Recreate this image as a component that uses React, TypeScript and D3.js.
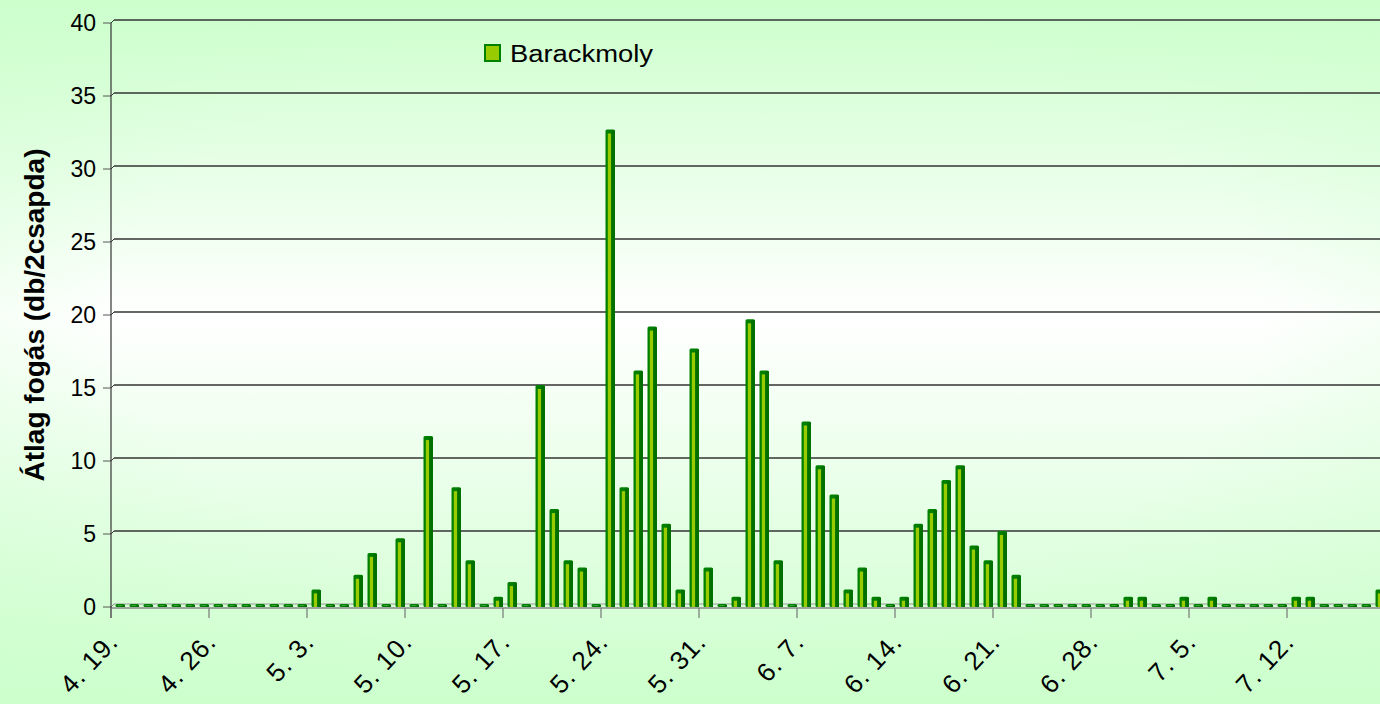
import React, { useEffect } from "react";
import * as d3 from "d3";

// daily mean catch, one array per month (first day of each array given by startDay)
const aprilDays = [19, 30];
const april = [0, 0, 0, 0, 0, 0, 0, 0, 0, 0, 0, 0];
const may = [
  0, 0, 1, 0, 0, 2, 3.5, 0, 4.5, 0, 11.5, 0, 8, 3, 0, 0.5, 1.5, 0, 15, 6.5,
  3, 2.5, 0, 32.5, 8, 16, 19, 5.5, 1, 17.5, 2.5,
];
const june = [
  0, 0.5, 19.5, 16, 3, 0, 12.5, 9.5, 7.5, 1, 2.5, 0.5, 0, 0.5, 5.5, 6.5, 8.5,
  9.5, 4, 3, 5, 2, 0, 0, 0, 0, 0, 0, 0, 0.5,
];
const july = [0.5, 0, 0, 0.5, 0, 0.5, 0, 0, 0, 0, 0, 0.5, 0.5, 0, 0, 0, 0, 1];

const tickLabels = [
  "4. 19.", "4. 26.", "5. 3.", "5. 10.", "5. 17.", "5. 24.", "5. 31.",
  "6. 7.", "6. 14.", "6. 21.", "6. 28.", "7. 5.", "7. 12.",
];
const yTicks = [0, 5, 10, 15, 20, 25, 30, 35, 40];
const seriesName = "Barackmoly";
const yTitle = "Átlag fogás (db/2csapda)";

const W = 1380;
const H = 704;
const DEPTH = 3;

const start = new Date(2010, 3, aprilDays[0]);
const values = [...april, ...may, ...june, ...july];
const data = values.map((v, i) => ({ date: d3.timeDay.offset(start, i), value: v }));
const tickDates = tickLabels.map((_, i) => d3.timeDay.offset(start, i * 7));

export default function App() {
  useEffect(() => {
    document.body.style.margin = "0";
  }, []);

  const x = d3
    .scaleTime()
    .domain([start, d3.timeDay.offset(start, 91)])
    .range([111, 111 + 14 * 91]);
  const y = d3.scaleLinear().domain([0, 40]).range([607, 23]);
  const y0 = y(0);
  const barW = 9.5;

  return (
    <svg
      width={W}
      height={H}
      style={{ position: "absolute", left: 0, top: 0, display: "block" }}
      fontFamily="'Liberation Sans', Arial, sans-serif"
    >
      <defs>
        <linearGradient id="bg" x1="0" y1="0" x2="0" y2="1">
          <stop offset="0" stopColor="#ccffcc" />
          <stop offset="0.45" stopColor="#ffffff" />
          <stop offset="1" stopColor="#ccffcc" />
        </linearGradient>
        <radialGradient id="side" cx="0.5" cy="0.45" r="0.75">
          <stop offset="0.55" stopColor="#ccffcc" stopOpacity="0" />
          <stop offset="1" stopColor="#ccffcc" stopOpacity="0.6" />
        </radialGradient>
      </defs>
      <rect width={W} height={H} fill="url(#bg)" />
      <rect width={W} height={H} fill="url(#side)" />

      {/* gridlines on back wall */}
      {yTicks.map((t) => (
        <g key={t}>
          <line x1={103} x2={111} y1={y(t)} y2={y(t)} stroke="#555" strokeWidth={1} />
          <line
            x1={111}
            y1={y(t)}
            x2={111 + DEPTH}
            y2={y(t) - DEPTH}
            stroke={t === 0 ? "#888" : "#333"}
            strokeWidth={1}
          />
          <line
            x1={111 + DEPTH}
            x2={W}
            y1={y(t) - DEPTH}
            y2={y(t) - DEPTH}
            stroke={t === 0 ? "#999" : "#333"}
            strokeWidth={t === 0 ? 1 : 1.3}
          />
          <text
            x={96}
            y={y(t)}
            textAnchor="end"
            dominantBaseline="central"
            fontSize={23}
            fill="#000"
          >
            {t}
          </text>
        </g>
      ))}

      {/* floor */}
      <line x1={111} x2={W} y1={y0 + 1} y2={y0 + 1} stroke="#888" strokeWidth={1.5} />

      {/* bars */}
      {data.map((d, i) => {
        const bx = x(d.date) + 4.5;
        const top = y(d.value) - DEPTH;
        return (
          <g key={i}>
            <rect
              x={bx}
              y={top}
              width={barW}
              height={y0 - top}
              rx={1.5}
              fill="#008000"
            />
            <rect
              x={bx + 5.5}
              y={top + 1}
              width={barW - 5.5}
              height={Math.max(0, y0 - top - 1)}
              fill="#007000"
            />
            {d.value > 0 ? (
              <rect
                x={bx + 2.3}
                y={y(d.value) + 1}
                width={3.3}
                height={Math.max(0, y0 - y(d.value) - 1)}
                fill="#99cc00"
              />
            ) : (
              <rect x={bx + 2} y={y0 - 2} width={5} height={1} fill="#33a033" />
            )}
          </g>
        );
      })}

      {/* y axis */}
      <line x1={111} x2={111} y1={y(40)} y2={618} stroke="#333" strokeWidth={1.2} />

      {/* x ticks and labels */}
      {tickDates.map((dt, i) => (
        <g key={i}>
          <line x1={x(dt)} x2={x(dt)} y1={y0 + 1} y2={618} stroke="#777" strokeWidth={1.2} />
          <text
            transform={`translate(${x(dt) + 2},${637}) rotate(-47)`}
            textAnchor="end"
            dy="0.35em"
            fontSize={26}
            letterSpacing={1}
            fill="#000"
          >
            {tickLabels[i]}
          </text>
        </g>
      ))}

      {/* y title */}
      <text
        transform={`translate(44,${315}) rotate(-90)`}
        textAnchor="middle"
        fontSize={28}
        fontWeight="bold"
        fill="#000"
      >
        {yTitle}
      </text>

      {/* legend */}
      <rect x={485} y={45} width={15} height={16} fill="#99cc00" stroke="#008000" strokeWidth={2} />
      <text x={510} y={62} fontSize={23} textLength={143} lengthAdjust="spacingAndGlyphs" fill="#000">
        {seriesName}
      </text>
    </svg>
  );
}
